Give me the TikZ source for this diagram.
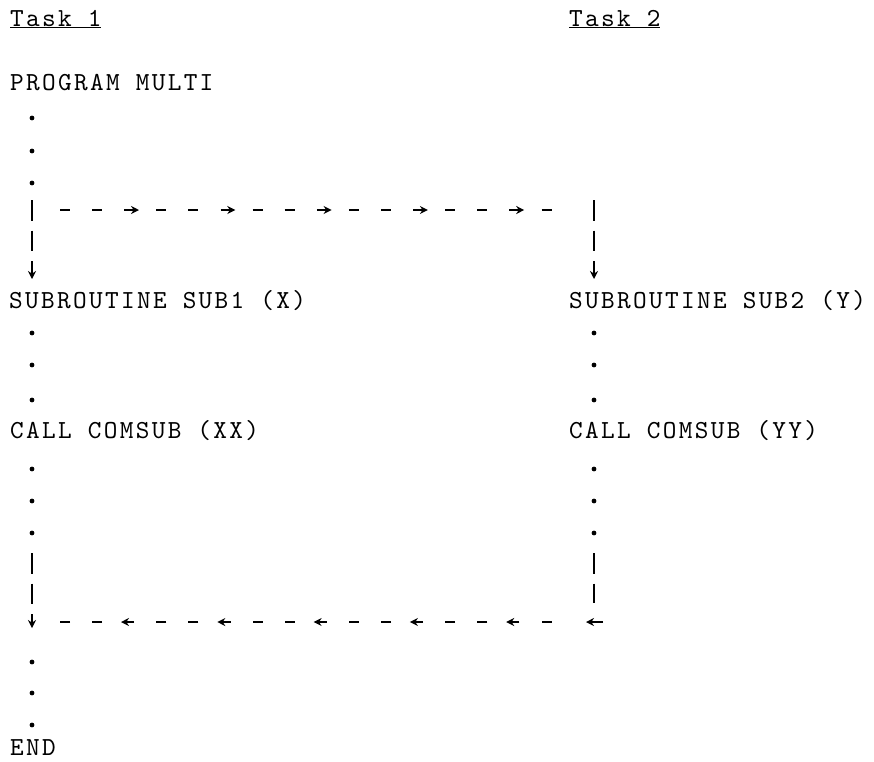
\documentclass[tikz,border=0pt]{standalone}
\usepackage{fontspec}
\usetikzlibrary{arrows.meta,decorations.markings}

\newfontfamily\typefont{lmmono10-regular}[Extension=.otf, LetterSpace=9]

\tikzset{
  listing/.style={anchor=base west, inner sep=0pt,
    font=\typefont\fontsize{26pt}{32pt}\selectfont},
  flowhead/.tip={Stealth[length=8pt, width=8pt]},
  vflow/.style={line width=2.5pt, dash pattern=on 20.5pt off 10pt},
  hflow/.style={line width=2.5pt, dash pattern=on 10pt off 22.1pt,
    postaction={decorate}},
}

\begin{document}
\begin{tikzpicture}[x=1pt, y=-1pt]
  \useasboundingbox (0,0) rectangle (874,761);

  % Headings
  \node[listing] (task1) at (10,26) {\underline{Task 1}};
  \node[listing] (task2) at (569,26) {\underline{Task 2}};

  % Task 1 listing
  \node[listing] (prog) at (10,90) {PROGRAM MULTI};
  \node[listing] (sub1) at (9,308) {SUBROUTINE SUB1 (X)};
  \node[listing] (call1) at (10,438) {CALL COMSUB (XX)};
  \node[listing] (finish) at (10,755) {END};

  % Task 2 listing
  \node[listing] (sub2) at (569,308) {SUBROUTINE SUB2 (Y)};
  \node[listing] (call2) at (569,438) {CALL COMSUB (YY)};

  % Skipped lines
  \foreach \y in {118,151,183,333,365,400,469,501,533,662,693,725}
    \fill (32,\y) circle (2.4pt);
  \foreach \y in {333,365,400,469,501,533}
    \fill (594,\y) circle (2.4pt);

  % Fork and join points
  \coordinate (forkL) at (32,200);
  \coordinate (forkR) at (594,200);
  \coordinate (splitL) at (32,210);
  \coordinate (splitR) at (594,210);
  \coordinate (entryL) at (32,279);
  \coordinate (entryR) at (594,279);
  \coordinate (joinL) at (32,553);
  \coordinate (joinR) at (594,553);
  \coordinate (turnL) at (32,622);
  \coordinate (turnR) at (594,622);
  \coordinate (backR) at (594,603);
  \coordinate (resume) at (32,628);

  % Task 2 is started
  \draw[vflow, -flowhead] (forkL) -- (entryL);
  \draw[vflow, -flowhead] (forkR) -- (entryR);
  \draw[hflow, shorten <=28pt, shorten >=42pt,
    decoration={markings, mark=between positions 107pt and 493pt step 96.3pt
      with {\arrow{flowhead}}}] (splitL) -- (splitR);

  % Task 2 ends and task 1 waits for it
  \draw[vflow] (joinR) -- (backR);
  \draw[line width=2.5pt, -flowhead] ([xshift=9pt]turnR) -- ([xshift=-8pt]turnR);
  \draw[hflow, shorten <=42.5pt, shorten >=28pt,
    decoration={markings, mark=between positions 87.8pt and 476pt step 96.3pt
      with {\arrow{flowhead}}}] (turnR) -- (turnL);
  \draw[vflow, -flowhead] (joinL) -- (resume);
\end{tikzpicture}
\end{document}
